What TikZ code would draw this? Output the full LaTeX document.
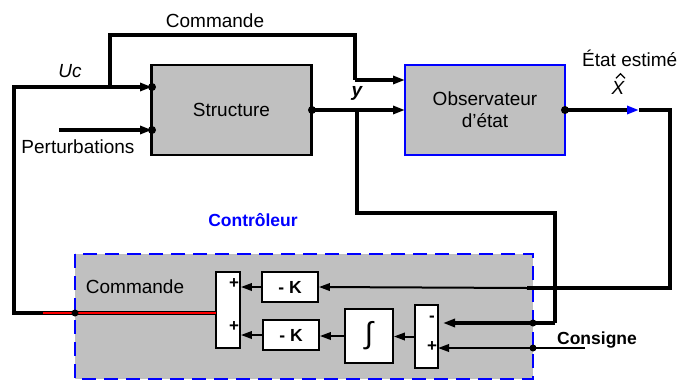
\documentclass[tikz,border=0pt]{standalone}
\usepackage{fontspec}
\setmainfont{Liberation Sans}
\usetikzlibrary{arrows.meta,calc}
\definecolor{boxgray}{RGB}{192,192,192}
\definecolor{ctrlblue}{RGB}{0,0,255}
\begin{document}
\begin{tikzpicture}[x=1pt,y=-1pt,
  font=\fontsize{19}{22}\selectfont,
  thk/.style={line width=3.2pt},
  thn/.style={line width=2pt},
  arr/.style={-{Triangle[length=12pt,width=8pt]}},
  sarr/.style={-{Triangle[length=11pt,width=7.5pt]}},
  bigbox/.style={draw, line width=2.4pt, fill=boxgray, minimum width=160pt, minimum height=90pt, inner sep=0pt, align=center},
  wbox/.style={draw, line width=1.8pt, fill=white, inner sep=0pt},
  bfs/.style={font=\fontsize{17.5}{20}\selectfont\bfseries},
  dotc/.style={circle, fill=black, inner sep=0pt, minimum size=8pt}
]
\useasboundingbox (0,0) rectangle (678,381);

% controller background
\draw[ctrlblue, line width=2.2pt, dash pattern=on 14pt off 8pt, fill=boxgray] (75,254) rectangle (533,379);

% main blocks
\node[bigbox] (S) at (231.5,110) {Structure};
\node[bigbox, draw=ctrlblue] (O) at (485,110) {Observateur\\d'état};

% controller blocks
\node[wbox, minimum width=24pt, minimum height=76pt] (Sum) at (228,310) {};
\node[wbox, minimum width=56pt, minimum height=30pt, bfs] (K1) at (290,287) {- K};
\node[wbox, minimum width=56pt, minimum height=30pt, bfs] (K2) at (291,335) {- K};
\node[wbox, minimum width=48pt, minimum height=54pt, font=\fontsize{30}{32}\selectfont] (I) at (369,336) {∫};
\node[wbox, minimum width=23pt, minimum height=63pt] (C) at (426.5,336.5) {};

% coordinates
\coordinate (sp1) at (152,87);
\coordinate (sp2) at (152,130);
\coordinate (so) at (312,110);
\coordinate (op) at (565,110);
\coordinate (ucL) at (14,87);
\coordinate (ucJ) at (110,87);
\coordinate (cmdA) at (110,35);
\coordinate (cmdB) at (355,35);
\coordinate (cmdC) at (355,80);
\coordinate (oin1) at (405,80);
\coordinate (oin2) at (405,110);
\coordinate (pertL) at (59,130);
\coordinate (yJ) at (357,110);
\coordinate (yA) at (357,213);
\coordinate (yB) at (555,213);
\coordinate (yC) at (555,323);
\coordinate (cmin) at (443,323);
\coordinate (xa) at (639,110);
\coordinate (xb) at (670,110);
\coordinate (xc) at (670,288);
\coordinate (xd) at (527,288);
\coordinate (bl) at (14,313);
\coordinate (rl) at (43,313);
\coordinate (sumL) at (216,313);
\coordinate (consR) at (585,348);
\coordinate (cplus) at (438,348);
\coordinate (dBox) at (75,313);
\coordinate (dMin) at (533,323);
\coordinate (dCons) at (533,348);

% loop from controller to structure
\draw[thk] (rl) -- (bl) -- (ucL) -- (ucJ);
\draw[thk, arr] (ucJ) -- (sp1);
\draw[thk] (ucJ) -- (cmdA) -- (cmdB) -- (cmdC);
\draw[thk, arr] (cmdC) -- (oin1);
\draw[thk, arr] (pertL) -- (sp2);
\draw[thk, arr] (so) -- (oin2);
\draw[thk] (yJ) -- (yA) -- (yB) -- (yC);
\draw[thk, arr] (yC) -- (cmin);
\draw[thk, -{Triangle[length=12pt,width=8pt,color=ctrlblue]}] (op) -- (xa);
\draw[thk] (xa) -- (xb) -- (xc) -- (xd);
\draw[thn, sarr] (xd) -- (K1.east);
\draw[thn, sarr] (consR) -- (cplus);

% red command line
\draw[line width=3.4pt] (rl) -- (sumL);
\draw[red, line width=1.6pt] (rl) -- (sumL);

% internal arrows
\draw[thn, sarr] (K1.west) -- (K1.west -| Sum.east);
\draw[thn, sarr] (K2.west) -- (K2.west -| Sum.east);
\draw[thn, sarr] (I.west) -- (I.west -| K2.east);
\draw[thn, sarr] (C.west) -- (C.west -| I.east);

% dots
\node[dotc] (d1) at (sp1) {};
\node[dotc] (d2) at (sp2) {};
\node[dotc] (d3) at (so) {};
\node[dotc] (d4) at (op) {};
\node[dotc, minimum size=7pt] (d5) at (dBox) {};
\node[dotc, minimum size=7pt] (d6) at (dMin) {};
\node[dotc, minimum size=7pt] (d7) at (dCons) {};

% signs
\node[font=\fontsize{17}{20}\selectfont\bfseries] (p1) at (234,284) {+};
\node[font=\fontsize{17}{20}\selectfont\bfseries] (p2) at (234,327) {+};
\node[font=\fontsize{17}{20}\selectfont\bfseries] (m1) at (432,319) {-};
\node[font=\fontsize{17}{20}\selectfont\bfseries] (p3) at (432,347) {+};

% labels
\node (lcmd) at (215,21) {Commande};
\node[font=\fontsize{19}{22}\selectfont\itshape] (luc) at (70,71) {Uc};
\node (lpert) at (78,147) {Perturbations};
\node[font=\fontsize{19}{22}\selectfont\bfseries\itshape] (ly) at (357,93) {y};
\node[anchor=west, inner sep=0pt] (lest) at (582,58) {État estimé};
\node[inner sep=0pt, font=\fontsize{19}{22}\selectfont\itshape] (lx) at (618,88) {X};
\draw[line width=1.1pt] ($(lx.north)+(-2,-3)$) -- ($(lx.north)+(2.5,-7.5)$) -- ($(lx.north)+(7,-3)$);
\node[bfs, text=ctrlblue] (lctrl) at (253,220) {Contrôleur};
\node (lcmd2) at (135,287) {Commande};
\node[bfs] (lcons) at (597,340) {Consigne};
\end{tikzpicture}
\end{document}
